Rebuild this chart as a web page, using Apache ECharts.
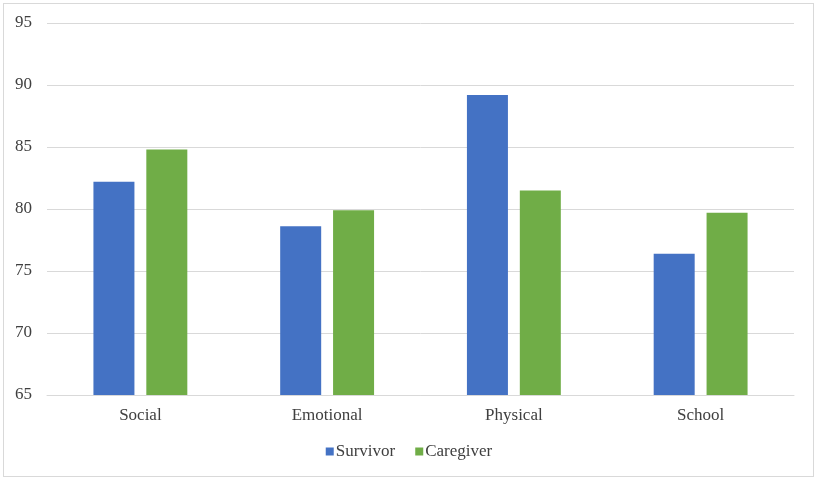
<!DOCTYPE html>
<html>
<head>
<meta charset="utf-8">
<script src="https://cdn.jsdelivr.net/npm/echarts@6/dist/echarts.min.js"></script>
<style>
html,body{margin:0;padding:0;background:#fff;}
#wrap{position:absolute;left:3px;top:3px;width:811px;height:474px;border:1px solid #d9d9d9;box-sizing:border-box;}
#chart{position:absolute;left:0;top:0;width:818px;height:480px;}
</style>
</head>
<body>
<div id="wrap"></div>
<div id="chart"></div>
<script>
const categories = ['Social', 'Emotional', 'Physical', 'School'];
const survivor = [82.2, 78.6, 89.2, 76.4];
const caregiver = [84.8, 79.9, 81.5, 79.7];

const chart = echarts.init(document.getElementById('chart'));
const font = 'Liberation Serif, Times New Roman, serif';
chart.setOption({
  animation: false,
  textStyle: { fontFamily: font },
  grid: { left: 47, right: 24, top: 23, bottom: 85, containLabel: false },
  legend: {
    top: 438,
    left: 'center',
    itemWidth: 8, itemHeight: 8, itemGap: 20,
    icon: 'rect',
    textStyle: { fontFamily: font, fontSize: 17, color: '#404040', padding: [0,0,0,-3] },
    data: ['Survivor', 'Caregiver']
  },
  xAxis: {
    type: 'category',
    data: categories,
    axisLine: { show: true, lineStyle: { color: '#d9d9d9', width: 1 } },
    axisTick: { show: false },
    axisLabel: { fontFamily: font, fontSize: 17, color: '#404040', margin: 12 }
  },
  yAxis: {
    type: 'value',
    min: 65, max: 95, interval: 5,
    axisLine: { show: false },
    axisTick: { show: false },
    splitLine: { lineStyle: { color: '#d9d9d9', width: 1 } },
    axisLabel: { fontFamily: font, fontSize: 17, color: '#404040', margin: 15 }
  },
  series: [
    { name: 'Survivor', type: 'bar', data: survivor, barWidth: 41, barGap: '29%',
      itemStyle: { color: '#4472C4' } },
    { name: 'Caregiver', type: 'bar', data: caregiver, barWidth: 41,
      itemStyle: { color: '#70AD47' } }
  ]
});
</script>
</body>
</html>
